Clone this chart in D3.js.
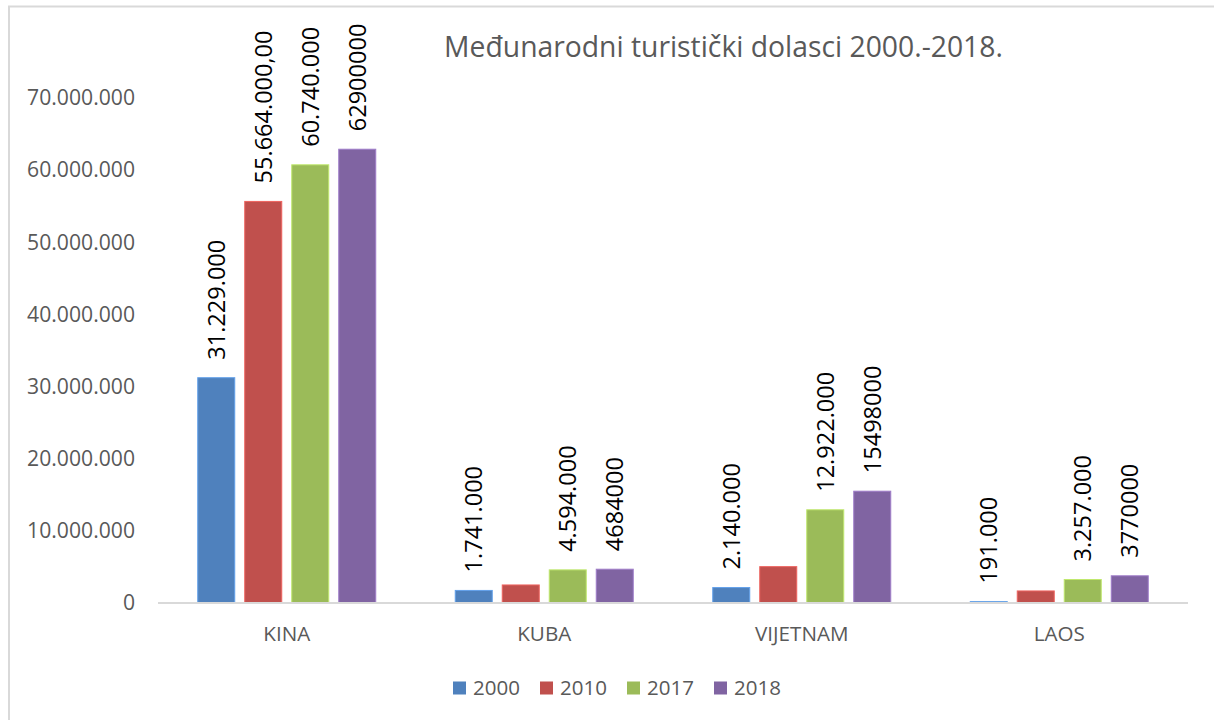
<!DOCTYPE html>
<html>
<head>
<meta charset="utf-8">
<script src="https://cdn.jsdelivr.net/npm/d3@7"></script>
<style>
  html, body { margin: 0; padding: 0; background: #fff; }
  svg { display: block; font-family: "Open Sans", "Noto Sans", sans-serif; }
</style>
</head>
<body>
<svg id="chart" width="1214" height="720"></svg>
<script>
// ---- data ----
const title = "Međunarodni turistički dolasci 2000.-2018.";
const categories = ["KINA", "KUBA", "VIJETNAM", "LAOS"];
const years = ["2000", "2010", "2017", "2018"];
const values2000 = [31229000, 1741000, 2140000, 191000];
const values2010 = [55664000, 2500000, 5040000, 1670000];
const values2017 = [60740000, 4594000, 12922000, 3257000];
const values2018 = [62900000, 4684000, 15498000, 3770000];
const labels2000 = ["31.229.000", "1.741.000", "2.140.000", "191.000"];
const labels2010 = ["55.664.000,00", null, null, null];
const labels2017 = ["60.740.000", "4.594.000", "12.922.000", "3.257.000"];
const labels2018 = ["62900000", "4684000", "15498000", "3770000"];
const yTicks = [0, 10000000, 20000000, 30000000, 40000000, 50000000, 60000000, 70000000];
const colors = ["#4F81BD", "#C0504D", "#9BBB59", "#8064A2"];

const seriesValues = [values2000, values2010, values2017, values2018];
const seriesLabels = [labels2000, labels2010, labels2017, labels2018];

const svg = d3.select("#chart");
const textGray = "#595959";

// fit a font size so that a reference string has a target width
function fitSize(str, target, family) {
  const t = svg.append("text").attr("font-size", 100).text(str);
  if (family) t.attr("font-family", family);
  const w = t.node().getComputedTextLength();
  t.remove();
  return 100 * target / w;
}
const tickFs = fitSize("70.000.000", 108);
const labelFs = fitSize("31.229.000", 120);
const titleFs = fitSize(title, 559);
const legendFs = fitSize("2000", 47);
const catFs = fitSize("KINA", 47);

// outer border
svg.append("rect")
  .attr("x", 9).attr("y", 6.5)
  .attr("width", 1230).attr("height", 730)
  .attr("fill", "none").attr("stroke", "#d9d9d9").attr("stroke-width", 2);

// scales
const plotLeft = 158, plotRight = 1188, plotTop = 98, plotBottom = 603;
const y = d3.scaleLinear().domain([0, 70000000]).range([plotBottom, plotTop]);
const x0 = d3.scaleBand().domain(categories).range([plotLeft, plotRight]).paddingInner(0).paddingOuter(0);
const x1 = d3.scaleBand().domain(years).range([0, x0.bandwidth()])
  .paddingInner(10 / 47).paddingOuter(0.8457);

const loc = d3.formatLocale({ decimal: ",", thousands: ".", grouping: [3], currency: ["", ""] });
const fmt = loc.format(",");

// y axis
const yAxis = svg.append("g")
  .attr("transform", `translate(${plotLeft},0)`)
  .call(d3.axisLeft(y).tickValues(yTicks).tickSize(0).tickPadding(23).tickFormat(fmt));
yAxis.select(".domain").remove();
yAxis.selectAll("text")
  .attr("font-size", tickFs).attr("fill", textGray)
  .attr("font-family", "\"Open Sans\", sans-serif");

// bars
const groups = svg.append("g").selectAll("g")
  .data(categories)
  .join("g")
  .attr("transform", d => `translate(${x0(d)},0)`);

years.forEach((yr, si) => {
  groups.append("rect")
    .attr("x", x1(yr))
    .attr("width", x1.bandwidth())
    .attr("y", (d, i) => y(seriesValues[si][i]))
    .attr("height", (d, i) => y(0) - y(seriesValues[si][i]))
    .attr("fill", colors[si])
    .attr("stroke", d3.color(colors[si]).brighter(0.6))
    .attr("stroke-width", 1);
});

// baseline
svg.append("line")
  .attr("x1", plotLeft).attr("x2", plotRight)
  .attr("y1", plotBottom).attr("y2", plotBottom)
  .attr("stroke", "#d9d9d9").attr("stroke-width", 2);

// data labels
years.forEach((yr, si) => {
  groups.each(function (d, i) {
    const lbl = seriesLabels[si][i];
    if (!lbl) return;
    const cx = x1(yr) + x1.bandwidth() / 2;
    const ty = y(seriesValues[si][i]) - 18;
    d3.select(this).append("text")
      .attr("transform", `translate(${cx},${ty}) rotate(-90)`)
      .attr("dy", "0.36em")
      .attr("text-anchor", "start")
      .attr("font-size", labelFs)
      .attr("fill", "#000")
      .text(lbl);
  });
});

// x axis labels
const xAxis = svg.append("g")
  .attr("transform", `translate(0,${plotBottom})`)
  .call(d3.axisBottom(x0).tickSize(0));
xAxis.select(".domain").remove();
xAxis.selectAll("text")
  .attr("y", 31).attr("dy", "0.35em")
  .attr("font-size", catFs).attr("fill", textGray)
  .attr("font-family", "\"Open Sans\", sans-serif");

// title
svg.append("text")
  .attr("x", 723.5).attr("y", 47).attr("dy", "0.35em")
  .attr("text-anchor", "middle")
  .attr("font-size", titleFs).attr("fill", textGray)
  .text(title);

// legend
const legendX = d3.scalePoint().domain(years).range([453, 714]);
const leg = svg.append("g").selectAll("g").data(years).join("g")
  .attr("transform", d => `translate(${legendX(d)},688)`);
leg.append("rect")
  .attr("x", 0).attr("y", -6.5).attr("width", 13).attr("height", 13)
  .attr("fill", (d, i) => colors[i]);
leg.append("text")
  .attr("x", 20).attr("dy", "0.35em")
  .attr("font-size", legendFs).attr("fill", textGray)
  .text(d => d);
</script>
</body>
</html>
